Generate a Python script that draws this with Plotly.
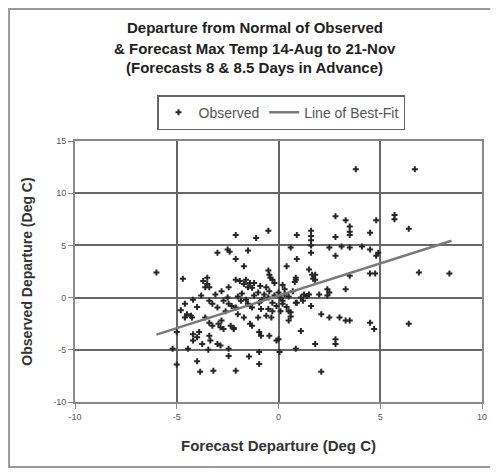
import plotly.graph_objects as go

# ---- data ----
obs_x = [
    3.8, 6.7,
    2.8, 3.3, 4.8, 5.7, 5.7, 6.4,
    3.5, 3.5, 3.5, 4.5, 0.9, -0.5, -1.1, -2.1,
    1.6, 1.6, 1.6, 1.6, 1.6, 2.8, 0.6,
    2.5, 3.1, 3.5, 4.1, 4.5, 4.9, 4.8, 2.8,
    0.9, 0.4, -3.0, -2.5, -2.4, -1.5, -2.1, -1.7,
    -6.0, -4.7, -3.7, -3.5, -3.6, -3.4, -2.45, -3.5,
    -2.1, -1.9, -1.6, -1.4, -1.2, -1.7, -1.5, -1.3,
    -0.5, -0.45, -0.4, -0.3, -0.2,
    0.85, 0.85, 0.8,
    1.5, 1.65, 1.8, 1.7, 1.8,
    3.5, 4.5, 4.75, 6.9, 8.4,
    3.3, 2.5, 2.4, 2.4,
    0.3, -0.45,
    1.25, 1.4, 1.1, 1.2, 1.5,
    0.1, 0.2, 0.2, 0.1,
    0.6, 0.6, 0.5, 0.5,
    2.1, 2.5, 3.0, 3.3,
    3.5, 4.5, 4.7, 6.4,
    -1.6, -1.4, -1.3, -0.95, -0.86, -0.5, -0.3, -0.35, -0.6,
    -1.4, -1.3, -0.95, -0.86, -0.45,
    0.0, -0.1, 1.1, 1.8, 2.8, 2.8, 0.85,
    -0.95, 0.05, -1.45, -0.95, 2.1,
    -4.6, -4.5, -4.3, -4.25, -4.6, -5.0,
    -3.4, -3.25, -3.0, -2.7, -2.5, -2.45, -2.3, -2.1, -2.6, -1.85, -1.5,
    -3.6, -3.4, -3.25, -2.8, -2.95, -2.35, -2.2,
    -3.9, -4.0, -4.2, -4.2,
    -3.75, -3.35, -3.0, -2.85, -3.4, -2.85, -2.7, -2.2,
    -5.2, -4.45, -3.45, -2.45, -2.45,
    -5.0, -4.0, -3.85, -3.2, -2.1,
    -1.0, -0.7, -0.5, -0.2, 0.0, -0.8, -0.3, 0.3, -1.2, -0.6,
    0.2, -0.9, 0.5, -1.8, -2.0, -2.8, -3.1, -3.8, -4.2, -0.1,
    0.4, -2.0, -1.7, -1.0, -4.8, -4.0, 0.9, 1.6, 2.0, 0.7, 0.85,
]
obs_y = [
    12.3, 12.3,
    7.8, 7.4, 7.4, 7.9, 7.5, 6.6,
    6.8, 6.3, 6.0, 6.2, 6.0, 6.4, 5.7, 6.0,
    6.4, 5.9, 5.5, 5.0, 4.3, 5.8, 4.8,
    4.8, 4.9, 4.8, 4.9, 4.6, 4.3, 4.0, 4.0,
    3.7, 3.0, 4.3, 4.6, 4.4, 4.5, 3.7, 3.0,
    2.4, 1.8, 1.6, 1.3, 1.0, 1.0, 1.0, 1.9,
    1.7, 1.6, 1.7, 1.4, 1.4, 1.3, 1.0, 0.95,
    2.6, 2.2, 1.9, 1.7, 1.4,
    1.9, 1.7, 1.5,
    2.7, 2.2, 2.2, 1.8, 1.7,
    2.1, 2.3, 2.3, 2.4, 2.3,
    0.8, 0.5, 0.2, 0.8,
    0.8, 0.6,
    0.3, 0.15, 0.0, -0.3, 0.3,
    0.0, -0.3, -0.6, -1.3,
    -1.4, -1.8, -2.2, -1.3,
    -1.6, -1.9, -1.9, -2.2,
    -2.2, -2.4, -3.0, -2.5,
    -0.2, -0.8, -0.95, -0.5, -1.1, -1.1, -1.3, -1.9, -1.75,
    -2.5, -2.7, -3.3, -3.65, -3.65,
    -4.0, -4.1, -3.2, -4.45, -4.0, -4.45, -4.9,
    -5.2, -5.2, -5.65, -6.35, -7.1,
    -0.6, -1.6, -1.75, -1.9, -1.9, -3.3,
    -0.3, -0.6, -0.95, -0.3, 0.0, -0.6, -0.8, -0.95, -1.3, -0.3, -0.6,
    -1.9, -2.4, -2.7, -2.2, -2.5, -2.7, -2.9,
    -3.3, -3.8, -4.1, -3.5,
    -4.45, -4.1, -4.45, -4.6, -3.65, -2.85, -3.0, -3.0,
    -4.9, -4.9, -5.0, -4.9, -5.6,
    -6.4, -6.1, -7.1, -7.0, -7.0,
    0.5, 0.3, 0.0, 0.2, 0.5, -0.2, -0.5, 0.3, 0.2, 1.0,
    1.2, 1.1, 0.1, 0.4, 0.1, 0.6, 0.3, 0.2, -0.2, -0.8,
    -0.9, -1.6, -1.9, -1.9, -1.2, -0.9, -0.5, -0.8, 0.3, 0.6, -0.5,
]
fit_x = [-6.0, 8.5]
fit_y = [-3.55, 5.45]

title_lines = [
    "Departure from Normal of Observed",
    "& Forecast Max Temp 14-Aug to 21-Nov",
    "(Forecasts 8 & 8.5 Days in Advance)",
]
x_ticks = [-10, -5, 0, 5, 10]
y_ticks = [-10, -5, 0, 5, 10, 15]

FONT = "Liberation Sans, Arial, sans-serif"

fig = go.Figure()
fig.add_trace(go.Scatter(
    x=obs_x, y=obs_y, mode="markers", name="Observed",
    marker=dict(symbol="cross", size=5, color="#262626"),
))
fig.add_trace(go.Scatter(
    x=fit_x, y=fit_y, mode="lines", name="Line of Best-Fit",
    line=dict(color="#7a7a7a", width=2.5),
))

axis_common = dict(
    showgrid=True, gridcolor="#666666", gridwidth=1.5,
    zeroline=False, showline=True, linecolor="#8a8a8a", linewidth=2,
    mirror=True, ticks="outside", ticklen=5, tickcolor="#8a8a8a",
    tickfont=dict(family=FONT, size=9, color="#555"),
    automargin=False,
)
fig.update_xaxes(
    range=[-10, 10], tickvals=x_ticks, ticktext=[str(v) for v in x_ticks],
    title=dict(text="Forecast Departure (Deg C)", standoff=20,
               font=dict(family=FONT, size=15, color="#333", weight="bold")),
    **axis_common,
)
fig.update_yaxes(
    range=[-10, 15], tickvals=y_ticks, ticktext=[str(v) for v in y_ticks],
    title=dict(text="Observed Departure (Deg C)", standoff=17,
               font=dict(family=FONT, size=14, color="#333", weight="bold")),
    **axis_common,
)

# title lines as separate annotations (line spacing of the reference)
title_y = [1.433, 1.356, 1.28]
for txt, ty in zip(title_lines, title_y):
    fig.add_annotation(
        text=txt, xref="paper", yref="paper", x=0.442, y=ty,
        xanchor="center", yanchor="middle", showarrow=False,
        font=dict(family=FONT, size=15, color="#222", weight="bold"),
    )

# outer chart frame
fig.add_shape(type="rect", xref="paper", yref="paper",
              x0=-0.162, x1=1.027, y0=-0.249, y1=1.506,
              line=dict(color="#9a9a9a", width=2), layer="below")

fig.update_layout(
    width=490, height=464,
    margin=dict(l=67, r=16, t=133, b=70),
    paper_bgcolor="white", plot_bgcolor="white",
    font=dict(family=FONT, color="#333"),
    showlegend=True,
    legend=dict(
        orientation="h", x=0.2015, y=1.176, xanchor="left", yanchor="top",
        bordercolor="#666", borderwidth=1.5, bgcolor="white",
        font=dict(family=FONT, size=14, color="#555"),
        itemwidth=30, tracegroupgap=0,
    ),
)

fig.write_html("out.html")
